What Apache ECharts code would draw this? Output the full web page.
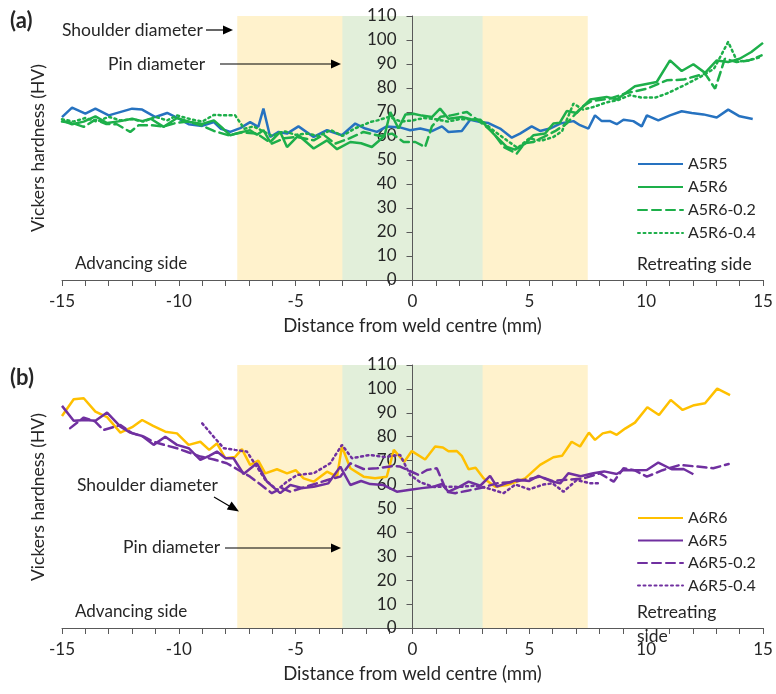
<!DOCTYPE html>
<html>
<head>
<meta charset="utf-8">
<script src="https://cdn.jsdelivr.net/npm/echarts@6/dist/echarts.min.js"></script>
<style>
  html, body { margin: 0; padding: 0; background: #ffffff; }
  #chart { width: 776px; height: 694px; }
</style>
</head>
<body>
<div id="chart"></div>
<script>
// Hardness profiles across the weld: distance (mm) and Vickers hardness (HV)

// Panel (a)
const a5r5X = [-15, -14.57, -14.0, -13.57, -13.0, -12.0, -11.57, -11.0, -10.5, -10.0, -9.58, -9.0, -8.5, -8.2, -7.8, -7.37, -6.95, -6.6, -6.38, -6.09, -5.73, -5.37, -4.88, -4.23, -3.66, -3.02, -2.45, -2.02, -1.52, -1.1, -0.5, -0.1, 0.33, 0.83, 1.26, 1.54, 2.11, 2.47, 2.9, 3.25, 3.75, 4.25, 4.6, 5.1, 5.46, 5.88, 6.32, 6.89, 7.17, 7.53, 7.81, 8.1, 8.46, 8.74, 9.03, 9.45, 9.81, 10.03, 10.52, 11.02, 11.52, 11.95, 12.45, 13.02, 13.51, 14.0, 14.56];
const a5r5Y = [67.9, 71.8, 69.3, 71.4, 68.6, 71.4, 71.0, 67.9, 69.6, 67.2, 64.9, 64.2, 65.8, 63.0, 61.7, 63.3, 65.8, 63.8, 71.4, 59.6, 61.7, 61.0, 64.0, 59.6, 62.4, 60.3, 65.2, 63.1, 61.7, 64.0, 63.5, 62.4, 63.1, 62.0, 64.0, 61.7, 62.1, 66.8, 65.8, 65.4, 63.1, 59.3, 61.0, 64.0, 62.1, 63.1, 65.2, 66.2, 64.5, 63.1, 68.6, 66.2, 66.2, 64.9, 66.8, 66.2, 64.0, 68.6, 66.5, 68.6, 70.3, 69.6, 69.0, 67.7, 71.0, 68.2, 67.1];

const a5r6X = [-15, -14.57, -14.07, -13.57, -13.07, -12.5, -12.0, -11.57, -11.2, -10.65, -10.08, -9.5, -9.0, -8.5, -8.1, -7.8, -7.37, -6.95, -6.66, -6.38, -6.09, -5.66, -5.37, -4.88, -4.23, -3.66, -3.23, -2.66, -2.2, -1.74, -1.2, -0.95, -0.6, -0.3, 0.04, 0.4, 0.83, 1.18, 1.54, 2.11, 2.5, 2.9, 3.46, 4.04, 4.39, 4.82, 5.17, 5.67, 6.03, 6.3, 6.6, 7.03, 7.6, 8.31, 8.74, 9.52, 10.45, 11.02, 11.52, 12.02, 12.52, 13.02, 13.51, 14.0, 14.5, 15.0];
const a5r6Y = [66.5, 64.9, 66.0, 68.2, 65.4, 66.2, 67.2, 66.2, 67.2, 63.8, 67.5, 65.8, 65.0, 66.5, 63.0, 60.3, 61.5, 62.4, 60.5, 62.4, 57.5, 61.7, 55.4, 60.3, 54.8, 58.2, 54.5, 57.5, 57.0, 55.4, 60.0, 70.0, 63.1, 69.0, 69.3, 68.5, 67.9, 71.4, 67.2, 67.9, 67.0, 66.8, 61.0, 55.4, 54.3, 56.8, 60.3, 61.0, 65.2, 65.5, 70.4, 69.6, 75.2, 76.3, 75.2, 80.7, 82.5, 91.5, 87.1, 89.9, 86.3, 91.5, 90.8, 92.2, 95.0, 98.8];

const a5r6d2X = [-15, -14.57, -14.07, -13.57, -13.1, -12.65, -12.08, -11.72, -11.2, -10.65, -10.1, -9.6, -9.05, -8.5, -7.87, -7.3, -6.66, -6.02, -5.5, -4.95, -4.23, -3.8, -3.31, -2.7, -2.1, -1.38, -0.88, -0.38, 0.12, 0.54, 0.83, 1.2, 1.6, 2.33, 2.9, 3.4, 3.9, 4.46, 4.8, 5.17, 5.6, 6.1, 6.6, 7.24, 7.67, 8.46, 9.17, 10.03, 10.88, 11.59, 12.52, 12.95, 13.37, 13.87, 14.4, 14.94];
const a5r6d2Y = [66.0, 65.5, 63.8, 66.8, 65.0, 64.9, 61.7, 64.5, 64.5, 64.0, 65.5, 66.0, 64.5, 62.1, 60.3, 61.5, 61.0, 56.8, 59.0, 59.6, 58.2, 60.5, 56.8, 59.0, 61.7, 60.0, 61.0, 57.5, 57.5, 55.4, 64.0, 68.0, 68.5, 70.0, 65.8, 62.0, 55.4, 52.7, 57.0, 57.5, 59.5, 62.0, 65.2, 72.1, 74.6, 75.6, 77.9, 79.7, 83.2, 83.5, 86.0, 79.7, 92.2, 90.8, 91.5, 93.6];

const a5r6d4X = [-15, -14.5, -14.0, -13.5, -13.0, -12.5, -12.0, -11.5, -11.0, -10.5, -10.08, -9.5, -9.0, -8.5, -7.95, -7.59, -7.2, -6.8, -6.4, -6.0, -5.5, -5.0, -4.5, -4.0, -3.5, -3.0, -2.5, -1.81, -1.5, -1.0, -0.5, 0.0, 0.5, 1.0, 1.5, 2.0, 2.5, 3.0, 3.5, 4.04, 4.5, 5.0, 5.5, 6.03, 6.4, 6.89, 7.3, 7.74, 8.3, 8.8, 9.31, 9.8, 10.4, 10.88, 11.6, 12.31, 12.9, 13.51, 13.9, 14.4, 14.94];
const a5r6d4Y = [67.0, 66.0, 67.5, 66.0, 68.0, 66.5, 67.0, 66.0, 68.0, 66.5, 68.6, 67.0, 66.0, 68.8, 68.6, 68.6, 63.0, 64.0, 62.0, 60.0, 62.0, 60.5, 61.0, 60.0, 62.5, 60.0, 63.0, 65.8, 66.5, 68.0, 66.0, 66.5, 67.5, 67.0, 66.0, 67.0, 67.0, 66.0, 62.0, 58.2, 55.0, 59.0, 58.0, 59.6, 62.0, 73.5, 71.0, 72.1, 74.0, 75.0, 77.0, 76.0, 76.0, 77.7, 81.0, 84.6, 88.0, 99.2, 91.0, 91.5, 93.0];

// Panel (b)
const a6r6X = [-15, -14.5, -14.07, -13.57, -13.07, -12.5, -12.0, -11.57, -11.1, -10.58, -10.08, -9.58, -9.08, -8.7, -8.37, -8.01, -7.6, -7.3, -6.95, -6.6, -6.3, -5.8, -5.37, -5.0, -4.66, -4.23, -3.66, -3.23, -3.02, -2.66, -2.09, -1.6, -1.1, -0.8, -0.35, -0.03, 0.54, 0.97, 1.3, 1.54, 1.9, 2.11, 2.4, 2.7, 3.04, 3.54, 4.04, 4.4, 4.82, 5.46, 6.03, 6.4, 6.81, 7.17, 7.55, 7.81, 8.14, 8.46, 8.74, 9.1, 9.52, 10.05, 10.55, 11.05, 11.56, 12.05, 12.52, 13.04, 13.59];
const a6r6Y = [88.7, 95.7, 96.1, 90.5, 88.2, 81.7, 84.0, 87.0, 84.5, 82.1, 81.4, 76.6, 77.9, 74.5, 77.2, 71.0, 71.5, 74.8, 68.2, 70.0, 64.7, 66.4, 64.7, 66.0, 62.6, 61.2, 65.4, 63.3, 75.9, 66.8, 63.3, 62.6, 63.3, 74.5, 69.5, 74.0, 70.5, 75.9, 75.5, 73.9, 74.0, 72.0, 66.4, 67.0, 62.6, 59.1, 59.8, 61.0, 62.6, 68.2, 71.4, 72.0, 77.9, 75.9, 81.7, 78.7, 81.4, 82.1, 80.8, 83.4, 85.9, 92.3, 89.1, 95.4, 91.2, 93.2, 94.0, 100.1, 97.4];

const a6r5X = [-15.0, -14.5, -14.0, -13.57, -13.07, -12.5, -12.08, -11.57, -11.08, -10.58, -10.08, -9.58, -9.08, -8.7, -8.37, -8.0, -7.66, -7.23, -6.66, -6.23, -5.66, -5.23, -4.7, -4.23, -3.6, -3.09, -2.66, -2.2, -1.81, -1.24, -0.67, -0.17, 0.4, 0.9, 1.26, 1.54, 2.0, 2.4, 2.9, 3.32, 3.61, 4.0, 4.5, 5.0, 5.39, 5.9, 6.32, 6.67, 7.2, 7.74, 8.2, 8.74, 9.03, 9.5, 10.03, 10.52, 11.09, 11.6, 12.02];
const a6r5Y = [92.9, 86.7, 87.0, 86.7, 90.1, 84.2, 81.7, 80.3, 76.6, 80.0, 76.6, 75.2, 70.3, 72.0, 73.8, 71.0, 71.0, 64.4, 68.9, 61.2, 56.4, 59.8, 58.5, 59.1, 60.5, 67.5, 59.8, 61.5, 60.2, 59.8, 57.0, 57.7, 58.5, 59.1, 60.2, 57.0, 59.0, 61.2, 59.5, 63.6, 59.1, 60.5, 62.0, 61.5, 63.6, 61.5, 60.5, 64.7, 63.5, 64.7, 65.5, 64.4, 66.1, 66.0, 66.1, 69.2, 66.4, 66.5, 64.3];

const a6r5d2X = [-14.65, -14.07, -13.6, -13.22, -12.5, -12.0, -11.5, -11.08, -10.6, -10.08, -9.6, -9.08, -8.5, -7.95, -7.45, -6.95, -6.5, -6.02, -5.6, -5.23, -4.6, -4.09, -3.6, -3.09, -2.66, -2.1, -1.52, -0.81, -0.53, 0.26, 0.62, 1.04, 1.47, 1.83, 2.4, 2.9, 3.61, 4.2, 4.8, 5.46, 6.0, 6.6, 7.3, 8.02, 8.61, 9.03, 9.5, 10.03, 10.7, 11.45, 12.2, 12.87, 13.53];
const a6r5d2Y = [83.6, 88.0, 86.5, 82.8, 84.9, 81.5, 80.0, 77.9, 76.5, 75.2, 73.5, 71.7, 70.5, 68.9, 66.1, 63.3, 60.0, 56.4, 58.5, 57.0, 59.0, 60.5, 62.0, 63.3, 68.9, 66.5, 66.8, 67.8, 67.5, 64.0, 66.1, 66.8, 57.0, 56.4, 57.5, 58.5, 60.5, 61.0, 62.0, 63.3, 61.5, 62.0, 62.5, 64.7, 61.2, 66.8, 66.0, 63.3, 66.0, 68.2, 67.5, 66.8, 68.6];

const a6r5d4X = [-9.0, -8.51, -8.08, -7.6, -7.09, -6.7, -6.3, -5.8, -5.4, -4.94, -4.23, -3.52, -3.02, -2.59, -1.81, -1.2, -0.53, -0.1, 0.33, 0.9, 1.47, 2.0, 2.6, 3.2, 3.9, 4.4, 5.0, 5.6, 6.0, 6.46, 7.03, 7.6, 8.02];
const a6r5d4Y = [85.6, 80.0, 75.2, 74.5, 73.8, 68.0, 62.0, 57.7, 61.0, 64.0, 64.7, 68.9, 76.6, 71.0, 72.4, 71.5, 72.4, 64.0, 61.0, 59.0, 59.1, 59.0, 59.5, 58.5, 56.4, 60.0, 58.0, 60.0, 60.5, 57.0, 61.9, 60.5, 60.5];

// Axis extents and shaded zones
const xRange = [-15, 15];
const yRange = [0, 110];
const shoulderZone = [-7.5, 7.5];
const pinZone = [-3, 3];

const FONT = 'Lato, "Open Sans", sans-serif';
const TXT = '#262626';
const AXC = '#595959';

const GRID_LEFT = 62, GRID_RIGHT = 13, CHART_W = 776;
const plotW = CHART_W - GRID_LEFT - GRID_RIGHT;
// the vertical axis sits at distance 0
const yAxisShift = -plotW * (0 - xRange[0]) / (xRange[1] - xRange[0]);

const zip = (xs, ys) => xs.map((x, i) => [x, ys[i]]);

function xAxis(gi) {
  return {
    type: 'value', gridIndex: gi, min: xRange[0], max: xRange[1], interval: 5, z: 2,
    axisLine: { onZero: false, lineStyle: { color: AXC, width: 1 } },
    axisTick: { show: true, inside: false, length: 6, lineStyle: { color: AXC } },
    minorTick: { show: true, splitNumber: 5, length: 6, lineStyle: { color: AXC } },
    splitLine: { show: false }, minorSplitLine: { show: false },
    axisLabel: { fontSize: 17, color: TXT, margin: 13, fontFamily: FONT },
    name: 'Distance from weld centre (mm)', nameLocation: 'middle', nameGap: 37,
    nameTextStyle: { fontSize: 18.5, color: TXT, fontFamily: FONT }
  };
}
function yAxis(gi) {
  return {
    type: 'value', gridIndex: gi, min: yRange[0], max: yRange[1], interval: 10, z: 2,
    position: 'left', offset: yAxisShift,
    axisLine: { show: true, onZero: false, lineStyle: { color: AXC, width: 1 } },
    axisTick: { show: true, inside: false, length: 6, lineStyle: { color: AXC } },
    splitLine: { show: false },
    axisLabel: { fontSize: 17, color: TXT, margin: 16, fontFamily: FONT }
  };
}

function lineSeries(name, xs, ys, color, type, idx) {
  return {
    name, type: 'line', xAxisIndex: idx, yAxisIndex: idx,
    data: zip(xs, ys), symbol: 'none', smooth: false, z: 3,
    lineStyle: { color, width: 2.5, type, cap: type === 'solid' ? 'butt' : 'round' },
    itemStyle: { color }
  };
}

function zones(idx) {
  return {
    type: 'line', xAxisIndex: idx, yAxisIndex: idx, data: [], silent: true, z: 1,
    markArea: {
      silent: true, z: 1,
      data: [
        [{ xAxis: shoulderZone[0], yAxis: yRange[0], itemStyle: { color: '#FFF2CC' } }, { xAxis: shoulderZone[1], yAxis: yRange[1] }],
        [{ xAxis: pinZone[0], yAxis: yRange[0], itemStyle: { color: '#E2EFDA' } }, { xAxis: pinZone[1], yAxis: yRange[1] }]
      ]
    }
  };
}

const GREEN = '#1DAF4A', BLUE = '#2672C0', GOLD = '#FFC000', PURPLE = '#7030A0';
const DASH = [9, 5], DOT = [2, 3.5];

function txt(x, y, text, extra) {
  return {
    type: 'text', x, y, z: 100,
    style: Object.assign({ text, fontSize: 17, fontFamily: FONT, fill: TXT, verticalAlign: 'middle' }, extra || {})
  };
}
function hArrow(x1, x2, y) {
  return [
    { type: 'line', z: 100, shape: { x1, y1: y, x2: x2 - 8, y2: y }, style: { stroke: '#000', lineWidth: 1.2 } },
    { type: 'polygon', z: 100, shape: { points: [[x2 - 10, y - 4.5], [x2, y], [x2 - 10, y + 4.5]] }, style: { fill: '#000' } }
  ];
}
function vTitle(y) {
  return { type: 'text', x: 38, y, rotation: Math.PI / 2, z: 100,
    style: { text: 'Vickers hardness (HV)', fontSize: 17.5, fontFamily: FONT, fill: TXT, align: 'center', verticalAlign: 'middle' } };
}

const graphics = [
  txt(10, 21, '(a)', { fontWeight: 'bold', fontSize: 22 }),
  txt(10, 378, '(b)', { fontWeight: 'bold', fontSize: 22 }),
  vTitle(148),
  vTitle(497),
  txt(62, 30, 'Shoulder diameter', { fontSize: 17.5 }),
  ...hArrow(206, 233, 30),
  txt(108, 64, 'Pin diameter', { fontSize: 17.5 }),
  ...hArrow(220, 341, 64),
  txt(77, 485, 'Shoulder diameter', { fontSize: 17.5 }),
  { type: 'line', z: 100, shape: { x1: 214, y1: 497, x2: 231, y2: 507 }, style: { stroke: '#000', lineWidth: 1.2 } },
  { type: 'polygon', z: 100, shape: { points: [[239, 511.5], [226.8, 509.6], [231.6, 501.5]] }, style: { fill: '#000' } },
  txt(123, 547, 'Pin diameter', { fontSize: 17.5 }),
  ...hArrow(225, 341, 548),
  txt(75, 264, 'Advancing side'),
  txt(75, 612, 'Advancing side'),
  txt(637, 264, 'Retreating side', { fontSize: 17.5 }),
  txt(637, 612, 'Retreating', { fontSize: 17.5 }),
  txt(637, 636, 'side', { fontSize: 17.5 })
];

const legendCommon = {
  orient: 'vertical', left: 637, itemWidth: 45, itemHeight: 14, selectedMode: false, padding: 0,
  itemStyle: { opacity: 0 },
  textStyle: { fontSize: 16, color: TXT, fontFamily: FONT }
};

const chart = echarts.init(document.getElementById('chart'), null, { renderer: 'canvas' });
chart.setOption({
  animation: false,
  backgroundColor: '#ffffff',
  grid: [
    { left: GRID_LEFT, right: GRID_RIGHT, top: 16, height: 264, outerBoundsMode: 'none', containLabel: false },
    { left: GRID_LEFT, right: GRID_RIGHT, top: 365, height: 263, outerBoundsMode: 'none', containLabel: false }
  ],
  xAxis: [xAxis(0), xAxis(1)],
  yAxis: [yAxis(0), yAxis(1)],
  legend: [
    Object.assign({ data: ['A5R5', 'A5R6', 'A5R6-0.2', 'A5R6-0.4'], top: 156, itemGap: 7 }, legendCommon),
    Object.assign({ data: ['A6R6', 'A6R5', 'A6R5-0.2', 'A6R5-0.4'], top: 510, itemGap: 6.5 }, legendCommon)
  ],
  series: [
    zones(0), zones(1),
    lineSeries('A5R5', a5r5X, a5r5Y, BLUE, 'solid', 0),
    lineSeries('A5R6', a5r6X, a5r6Y, GREEN, 'solid', 0),
    lineSeries('A5R6-0.2', a5r6d2X, a5r6d2Y, GREEN, DASH, 0),
    lineSeries('A5R6-0.4', a5r6d4X, a5r6d4Y, GREEN, DOT, 0),
    lineSeries('A6R6', a6r6X, a6r6Y, GOLD, 'solid', 1),
    lineSeries('A6R5', a6r5X, a6r5Y, PURPLE, 'solid', 1),
    lineSeries('A6R5-0.2', a6r5d2X, a6r5d2Y, PURPLE, DASH, 1),
    lineSeries('A6R5-0.4', a6r5d4X, a6r5d4Y, PURPLE, DOT, 1)
  ],
  graphic: graphics
});
</script>
</body>
</html>
